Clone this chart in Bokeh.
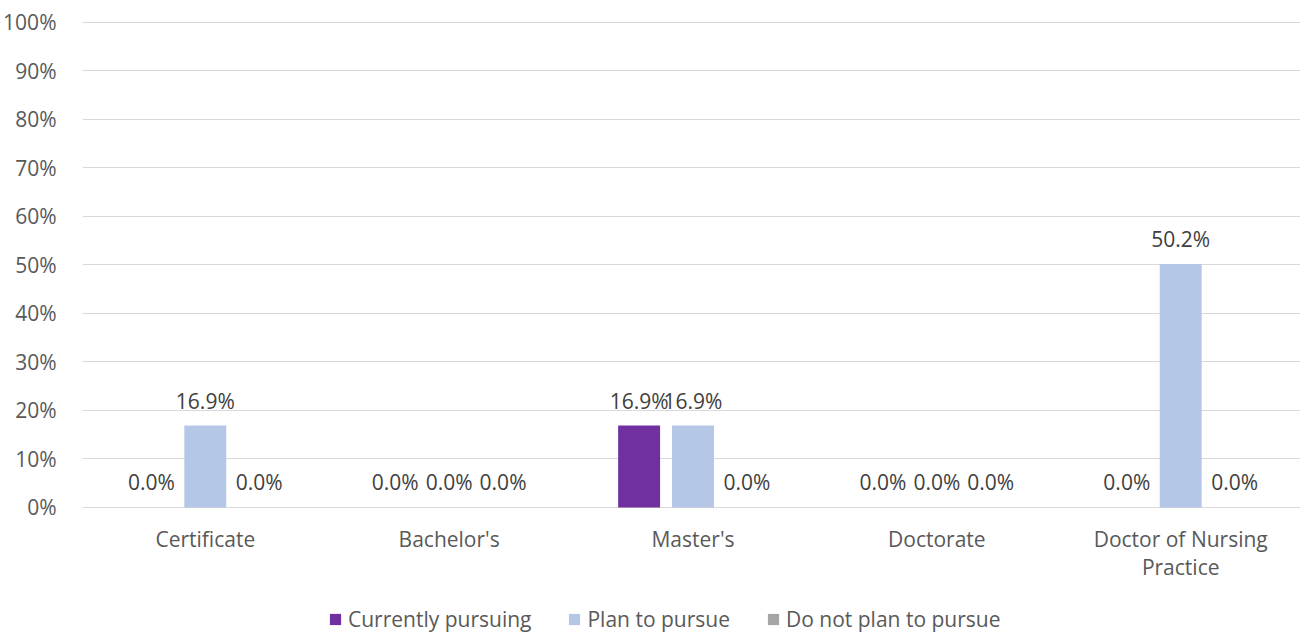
from bokeh.plotting import figure
from bokeh.models import ColumnDataSource, Range1d, FixedTicker, NumeralTickFormatter, Legend, LegendItem
from bokeh.core.properties import value
from bokeh.embed import file_html
from bokeh.resources import INLINE

categories = ["Certificate", "Bachelor's", "Master's", "Doctorate", "Doctor of Nursing\nPractice"]
series_names = ["Currently pursuing", "Plan to pursue", "Do not plan to pursue"]
currently_pursuing = [0.0, 0.0, 0.169, 0.0, 0.0]
plan_to_pursue = [0.169, 0.0, 0.169, 0.0, 0.502]
do_not_plan = [0.0, 0.0, 0.0, 0.0, 0.0]
y_ticks = [i / 10 for i in range(11)]
colors = ["#7030A0", "#B4C7E7", "#A5A5A5"]
offsets = [-0.221, 0.0, 0.221]

FONT = "Open Sans"
FS = "21px"

p = figure(width=1300, height=633, output_backend="svg", toolbar_location=None,
           x_range=Range1d(-0.5036, 4.4913), y_range=Range1d(-0.2598, 1.002),
           min_border_left=80, min_border_right=0, min_border_top=21, min_border_bottom=0)
p.outline_line_color = None
p.background_fill_color = "white"
p.border_fill_color = "white"

renderers = []
for name, vals, col, off in zip(series_names, [currently_pursuing, plan_to_pursue, do_not_plan], colors, offsets):
    xs = [i + off for i in range(len(categories))]
    src = ColumnDataSource(dict(x=xs, top=vals, lab=[f"{v*100:.1f}%" for v in vals]))
    r = p.vbar(x="x", top="top", bottom=0, width=0.172, source=src, fill_color=col, line_color=None)
    renderers.append((name, r))
    p.text(x="x", y="top", text="lab", source=src, text_align="center", text_baseline="middle",
           y_offset=-25, text_font=value(FONT), text_font_size=FS, text_color="#404040")

# category labels under the baseline
cat_src = ColumnDataSource(dict(x=list(range(len(categories))), y=[0] * len(categories), t=categories))
p.text(x="x", y="y", text="t", source=cat_src, text_align="center", text_baseline="top",
       y_offset=18, text_line_height=1.0, text_font=value(FONT), text_font_size=FS, text_color="#595959")

p.xaxis.visible = False

p.yaxis.ticker = FixedTicker(ticks=y_ticks)
p.yaxis.formatter = NumeralTickFormatter(format="0%")
p.yaxis.major_tick_line_color = None
p.yaxis.minor_tick_line_color = None
p.yaxis.axis_line_color = None
p.yaxis.major_label_text_font = FONT
p.yaxis.major_label_text_font_size = FS
p.yaxis.major_label_text_color = "#595959"
p.yaxis.major_label_standoff = 20

p.xgrid.grid_line_color = None
p.ygrid.ticker = FixedTicker(ticks=y_ticks)
p.ygrid.grid_line_color = "#D9D9D9"
p.ygrid.grid_line_width = 1

legend = Legend(items=[LegendItem(label=n, renderers=[r]) for n, r in renderers],
                orientation="horizontal", location=(246, 0),
                glyph_width=14, glyph_height=14, label_standoff=6, spacing=36,
                padding=0, margin=0, border_line_color=None, background_fill_alpha=0,
                label_text_font=FONT, label_text_font_size=FS, label_text_color="#595959")
p.add_layout(legend, "center")

open("out.html", "w").write(file_html(p, INLINE))
